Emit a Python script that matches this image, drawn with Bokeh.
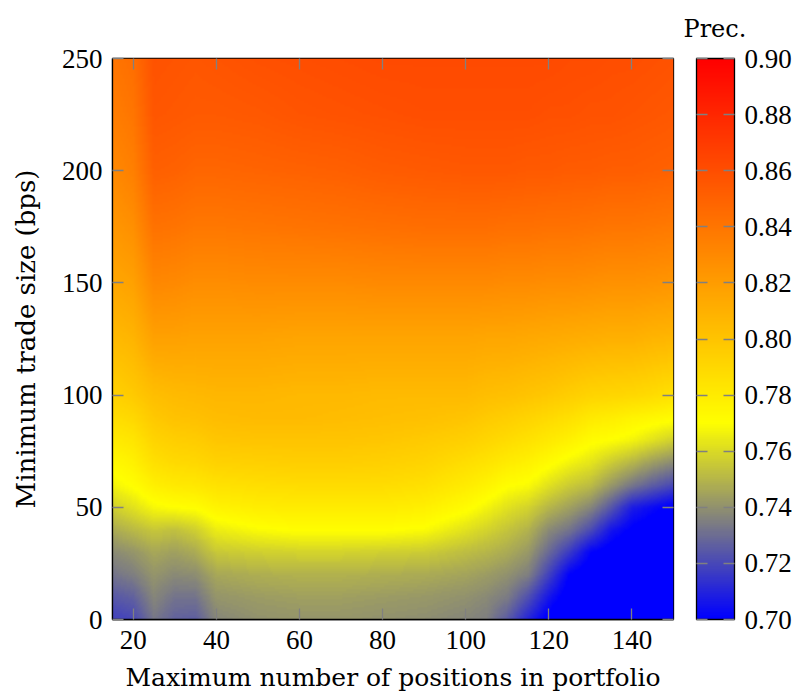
import numpy as np
from bokeh.plotting import figure
from bokeh.models import (LinearColorMapper, ColorBar, FixedTicker,
                          PrintfTickFormatter, Title)
from bokeh.embed import file_html
from bokeh.resources import INLINE

# ---------------- data ----------------
max_positions = [15, 20, 25, 30, 35, 40, 50, 60, 70, 80, 90, 100, 105, 110,
                 115, 120, 125, 130, 135, 140, 145, 150]
min_trade_bps = [0, 10, 20, 30, 40, 50, 60, 70, 80, 90, 100, 125, 150, 175,
                 200, 225, 250]
# one row per minimum trade size, one column per max number of positions
precision = [
    [.718, .720, .733, .727, .726, .737, .740, .741, .741, .740, .739, .737, .735, .725, .710, .697, .690, .685, .682, .680, .680, .680],
    [.724, .727, .737, .732, .732, .741, .743, .744, .744, .743, .742, .740, .738, .734, .722, .706, .695, .690, .687, .684, .683, .682],
    [.732, .735, .741, .738, .739, .746, .748, .749, .749, .748, .747, .745, .743, .740, .735, .718, .700, .695, .691, .688, .686, .685],
    [.738, .741, .746, .744, .747, .755, .757, .758, .758, .757, .756, .752, .750, .747, .742, .729, .716, .701, .696, .692, .690, .688],
    [.747, .751, .755, .753, .757, .765, .769, .771, .771, .771, .769, .762, .758, .754, .749, .738, .732, .721, .706, .699, .695, .692],
    [.757, .762, .768, .770, .771, .776, .779, .780, .780, .780, .778, .772, .767, .762, .758, .750, .744, .737, .724, .708, .703, .698],
    [.767, .771, .778, .781, .782, .785, .787, .788, .788, .788, .786, .780, .776, .771, .769, .762, .756, .752, .742, .733, .726, .720],
    [.773, .777, .786, .789, .790, .793, .794, .795, .795, .794, .792, .787, .784, .780, .777, .772, .767, .763, .756, .750, .743, .738],
    [.780, .783, .792, .795, .796, .799, .800, .800, .800, .799, .797, .794, .791, .788, .785, .781, .777, .772, .770, .767, .762, .757],
    [.787, .790, .798, .801, .802, .804, .805, .805, .804, .803, .802, .800, .797, .795, .792, .789, .786, .781, .779, .776, .774, .772],
    [.793, .797, .803, .805, .806, .807, .807, .806, .806, .805, .805, .805, .803, .802, .800, .798, .795, .792, .791, .790, .788, .785],
    [.805, .808, .818, .818, .817, .817, .817, .816, .816, .816, .816, .816, .815, .815, .814, .813, .812, .811, .810, .810, .808, .807],
    [.815, .818, .831, .830, .828, .828, .829, .829, .829, .830, .830, .830, .830, .829, .829, .828, .828, .827, .826, .826, .825, .824],
    [.823, .827, .842, .841, .839, .839, .840, .841, .842, .843, .844, .844, .844, .843, .843, .842, .842, .841, .840, .840, .839, .838],
    [.830, .835, .851, .850, .848, .848, .849, .850, .851, .853, .854, .855, .855, .855, .854, .854, .853, .853, .852, .852, .851, .850],
    [.836, .840, .856, .855, .854, .854, .855, .857, .858, .859, .860, .860, .860, .860, .860, .859, .859, .858, .858, .857, .856, .855],
    [.840, .844, .858, .857, .856, .857, .859, .860, .861, .862, .862, .862, .862, .862, .862, .862, .861, .861, .860, .860, .859, .858],
]
x_ticks = [20, 40, 60, 80, 100, 120, 140]
y_ticks = [0, 50, 100, 150, 200, 250]
cbar_ticks = [0.70, 0.72, 0.74, 0.76, 0.78, 0.80, 0.82, 0.84, 0.86, 0.88, 0.90]
prec_low, prec_high = 0.70, 0.90

# colormap: blue -> yellow -> red
cmap_pos = [0.0, 0.35, 1.0]
cmap_r = [0, 255, 255]
cmap_g = [0, 255, 0]
cmap_b = [255, 0, 0]
frac = np.linspace(0.0, 1.0, 256)
palette = ["#%02x%02x%02x" % (int(round(np.interp(f, cmap_pos, cmap_r))),
                              int(round(np.interp(f, cmap_pos, cmap_g))),
                              int(round(np.interp(f, cmap_pos, cmap_b))))
           for f in frac]

# interpolated shading of the measured grid (like shader=interp)
xa = np.array(max_positions, dtype=float)
ya = np.array(min_trade_bps, dtype=float)
za = np.array(precision, dtype=float)
nx, ny = 280, 280
fx = xa[0] + (np.arange(nx) + 0.5) * (xa[-1] - xa[0]) / nx
fy = ya[0] + (np.arange(ny) + 0.5) * (ya[-1] - ya[0]) / ny
rows_fine = np.array([np.interp(fx, xa, row) for row in za])
shade = np.array([np.interp(fy, ya, rows_fine[:, j]) for j in range(nx)]).T

mapper = LinearColorMapper(palette=palette, low=prec_low, high=prec_high,
                           low_color=palette[0], high_color=palette[-1])

FRAME = 561
p = figure(frame_width=FRAME, frame_height=FRAME,
           min_border_left=112, min_border_right=126,
           min_border_top=58, min_border_bottom=75,
           x_range=(xa[0], xa[-1]), y_range=(ya[0], ya[-1]),
           x_axis_label="Maximum number of positions in portfolio",
           y_axis_label="Minimum trade size (bps)",
           output_backend="svg", toolbar_location=None)
p.background_fill_color = "white"
p.border_fill_color = "white"
p.grid.visible = False
p.outline_line_color = "black"
p.outline_line_width = 1.3

p.image(image=[shade], x=xa[0], y=ya[0], dw=xa[-1] - xa[0],
        dh=ya[-1] - ya[0], color_mapper=mapper)

p.xaxis.ticker = FixedTicker(ticks=x_ticks)
p.yaxis.ticker = FixedTicker(ticks=y_ticks)
for ax in (p.xaxis[0], p.yaxis[0]):
    ax.major_tick_in = FRAME
    ax.major_tick_out = 0
    ax.major_tick_line_dash = "11 539"
    ax.major_tick_line_color = "#808080"
    ax.major_tick_line_width = 1.3
    ax.minor_tick_line_color = None
    ax.axis_line_color = "black"
    ax.axis_line_width = 1.3
    ax.major_label_text_font = "Liberation Serif"
    ax.major_label_text_font_size = "27px"
    ax.major_label_text_color = "black"
    ax.axis_label_text_font = "DejaVu Serif"
    ax.axis_label_text_font_style = "normal"
    ax.axis_label_text_color = "black"
p.xaxis.axis_label_text_font_size = "25px"
p.yaxis.axis_label_text_font_size = "26px"
p.xaxis.major_label_standoff = 11
p.xaxis.axis_label_standoff = 11
p.yaxis.major_label_standoff = 10
p.yaxis.axis_label_standoff = 18

cb = ColorBar(color_mapper=mapper, orientation="vertical",
              location=(584, 0), width=38, height=FRAME,
              padding=0, margin=0,
              ticker=FixedTicker(ticks=cbar_ticks),
              formatter=PrintfTickFormatter(format="%.2f"),
              major_tick_in=38, major_tick_out=0,
              major_tick_line_color="#808080", major_tick_line_width=1.3,
              major_tick_line_dash="11 16",
              minor_tick_line_color=None,
              bar_line_color="black", bar_line_width=1.3,
              label_standoff=10,
              major_label_text_font="Liberation Serif",
              major_label_text_font_size="27px",
              major_label_text_color="black",
              background_fill_alpha=0, border_line_color=None)
p.add_layout(cb)

p.add_layout(Title(text="Prec.", align="left", offset=571, standoff=27,
                   vertical_align="top",
                   text_font="DejaVu Serif", text_font_size="24px",
                   text_font_style="normal", text_color="black"), "above")

open("out.html", "w").write(file_html(p, INLINE))
